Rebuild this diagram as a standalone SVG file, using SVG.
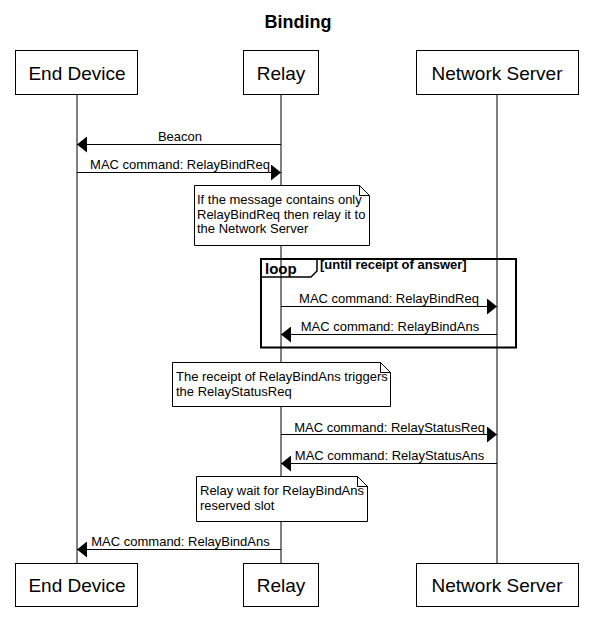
<svg xmlns="http://www.w3.org/2000/svg" width="592" height="631" viewBox="0 0 592 631">
<style>
text{font-family:"Liberation Sans",Arial,sans-serif;fill:#000}
.title{font-size:18px;font-weight:bold;text-anchor:middle}
.part rect{fill:#fff;stroke:#000;stroke-width:1}
.part text{font-size:19px;text-anchor:middle}
.life{stroke:#000;stroke-width:1}
.msg line{stroke:#000;stroke-width:1}
.msg text{font-size:13px;text-anchor:middle}
.note path{fill:#fff;stroke:#000;stroke-width:1}
.note text{font-size:13px}
.frame{fill:none;stroke:#000;stroke-width:2}
.loopk{font-size:15px;font-weight:bold}
.cond{font-size:13px;font-weight:bold}
</style>
<defs>
<marker id="ah" viewBox="0 0 10 16" refX="10" refY="8" markerWidth="10" markerHeight="16" markerUnits="userSpaceOnUse" orient="auto">
<path d="M0,0 L10,8 L0,16 Z" fill="#000"/>
</marker>
</defs>
<rect width="592" height="631" fill="#fff"/>
<text class="title" x="298" y="28">Binding</text>

<g id="lifelines">
<line class="life" x1="77" y1="94" x2="77" y2="563"/>
<line class="life" x1="281" y1="94" x2="281" y2="563"/>
<line class="life" x1="497" y1="94" x2="497" y2="563"/>
</g>

<g id="end-device-top" class="part"><rect x="15.5" y="50.5" width="122" height="44"/><text x="77" y="80">End Device</text></g>
<g id="relay-top" class="part"><rect x="243.5" y="50.5" width="75" height="44"/><text x="281" y="80">Relay</text></g>
<g id="network-server-top" class="part"><rect x="416.5" y="50.5" width="162" height="44"/><text x="497" y="80">Network Server</text></g>

<g id="loop-frame">
<rect class="frame" x="261" y="259" width="255" height="88.5"/>
<path d="M261,277 L311,277 L317,271 L317,259" fill="none" stroke="#000" stroke-width="1.5"/>
<text class="loopk" x="265" y="274">loop</text>
<text class="cond" x="320" y="268.5">[until receipt of answer]</text>
</g>

<g id="note-1" class="note">
<path d="M194.5,185.5 L359.5,185.5 L369.5,195.5 L369.5,245.5 L194.5,245.5 Z M359.5,185.5 L359.5,195.5 L369.5,195.5"/>
<text x="197" y="204">If the message contains only</text>
<text x="197" y="218.5">RelayBindReq then relay it to</text>
<text x="197" y="233">the Network Server</text>
</g>

<g id="note-2" class="note">
<path d="M172.5,362.5 L380.5,362.5 L390.5,372.5 L390.5,406.5 L172.5,406.5 Z M380.5,362.5 L380.5,372.5 L390.5,372.5"/>
<text x="176" y="381">The receipt of RelayBindAns triggers</text>
<text x="176" y="395.5">the RelayStatusReq</text>
</g>

<g id="note-3" class="note">
<path d="M196.5,476.5 L357.5,476.5 L367.5,486.5 L367.5,521.5 L196.5,521.5 Z M357.5,476.5 L357.5,486.5 L367.5,486.5"/>
<text x="200" y="495">Relay wait for RelayBindAns</text>
<text x="200" y="510">reserved slot</text>
</g>

<g id="connectors" class="msg">
<line x1="281" y1="144.5" x2="77" y2="144.5" marker-end="url(#ah)"/>
<text x="180" y="141">Beacon</text>
<line x1="77" y1="172.5" x2="281" y2="172.5" marker-end="url(#ah)"/>
<text x="180" y="169">MAC command: RelayBindReq</text>
<line x1="281" y1="306.5" x2="497" y2="306.5" marker-end="url(#ah)"/>
<text x="389" y="303">MAC command: RelayBindReq</text>
<line x1="497" y1="334.5" x2="281" y2="334.5" marker-end="url(#ah)"/>
<text x="390" y="331">MAC command: RelayBindAns</text>
<line x1="281" y1="434.5" x2="497" y2="434.5" marker-end="url(#ah)"/>
<text x="389.5" y="431.5">MAC command: RelayStatusReq</text>
<line x1="497" y1="463.5" x2="281" y2="463.5" marker-end="url(#ah)"/>
<text x="389.5" y="459.5">MAC command: RelayStatusAns</text>
<line x1="281" y1="549.5" x2="77" y2="549.5" marker-end="url(#ah)"/>
<text x="180.5" y="546">MAC command: RelayBindAns</text>
</g>

<g id="end-device-bottom" class="part"><rect x="15.5" y="563.5" width="122" height="43"/><text x="77" y="592">End Device</text></g>
<g id="relay-bottom" class="part"><rect x="243.5" y="563.5" width="75" height="43"/><text x="281" y="592">Relay</text></g>
<g id="network-server-bottom" class="part"><rect x="416.5" y="563.5" width="162" height="43"/><text x="497" y="592">Network Server</text></g>
</svg>
